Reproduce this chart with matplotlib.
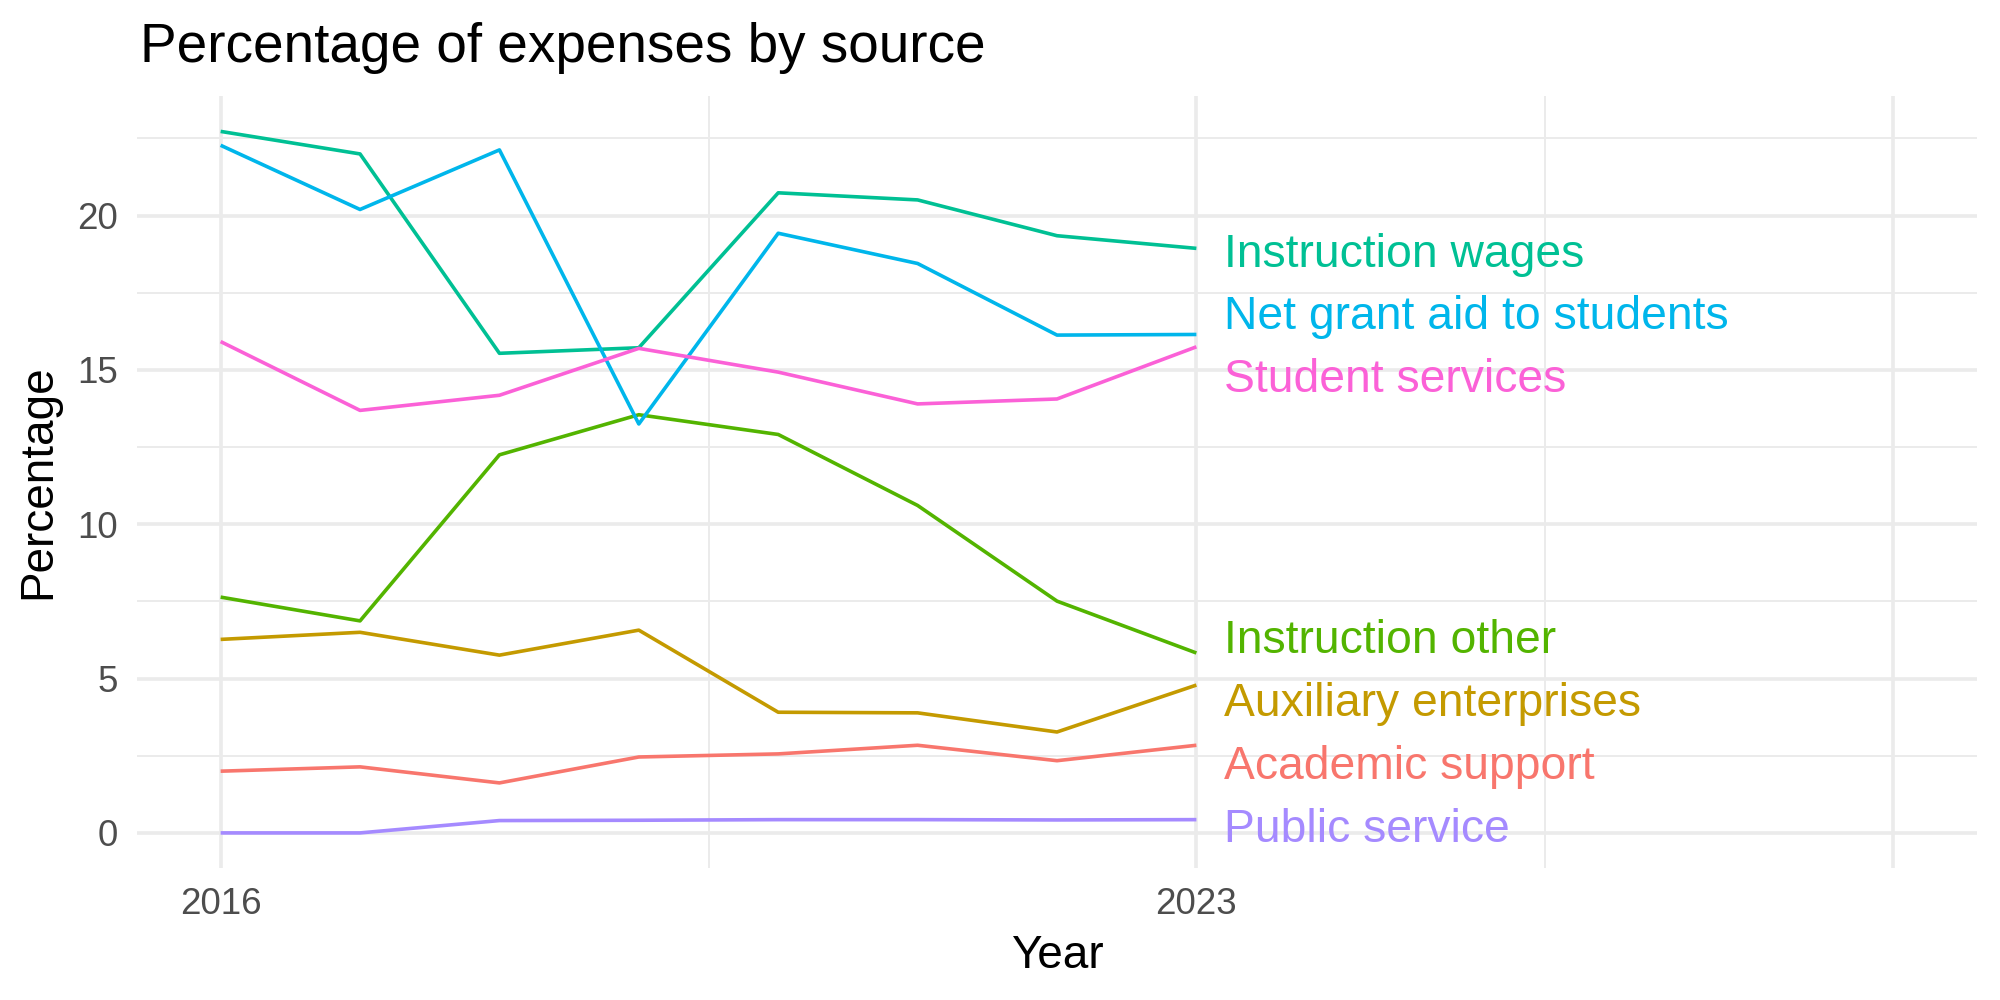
import matplotlib
matplotlib.use("Agg")
import matplotlib.pyplot as plt
from matplotlib.ticker import FixedLocator

plt.rcParams['font.family'] = ['Liberation Sans', 'DejaVu Sans']

# data
years = [2016, 2017, 2018, 2019, 2020, 2021, 2022, 2023]
academic_support = [2.00, 2.14, 1.62, 2.46, 2.56, 2.84, 2.34, 2.84]
auxiliary_enterprises = [6.27, 6.50, 5.76, 6.57, 3.91, 3.89, 3.27, 4.79]
instruction_other = [7.64, 6.87, 12.25, 13.55, 12.91, 10.61, 7.51, 5.83]
instruction_wages = [22.73, 22.00, 15.54, 15.72, 20.74, 20.51, 19.35, 18.94]
net_grant_aid = [22.28, 20.20, 22.13, 13.25, 19.43, 18.45, 16.13, 16.15]
public_service = [0.00, 0.00, 0.40, 0.41, 0.43, 0.43, 0.42, 0.43]
student_services = [15.92, 13.69, 14.18, 15.70, 14.93, 13.90, 14.06, 15.75]

series_names = ["Academic support", "Auxiliary enterprises", "Instruction other",
                "Instruction wages", "Net grant aid to students", "Public service",
                "Student services"]
series_values = [academic_support, auxiliary_enterprises, instruction_other,
                 instruction_wages, net_grant_aid, public_service, student_services]

# ggplot hue palette
colors = ["#F8766D", "#C49A00", "#53B400", "#00C094", "#00B6EB", "#A58AFF", "#FB61D7"]
# end-label heights (repelled so they don't overlap)
label_y = [2.12, 4.18, 6.21, 18.73, 16.71, 0.09, 14.68]

fig = plt.figure(figsize=(20, 10), dpi=100)
ax = fig.add_axes([0.0685, 0.132, 0.92, 0.772])

grid = "#EBEBEB"
for name, vals, col, ly in zip(series_names, series_values, colors, label_y):
    ax.plot(years, vals, color=col, lw=2.6, zorder=3, solid_capstyle='butt')
    ax.text(years[-1] + 0.2, ly, name, color=col, fontsize=33.3,
            ha='left', va='center', zorder=4)

ax.set_xlim(2015.4, 2028.6)
ax.set_ylim(-1.137, 23.877)

ax.xaxis.set_major_locator(FixedLocator([2016, 2023, 2028]))
ax.set_xticklabels(["2016", "2023", ""])
ax.xaxis.set_minor_locator(FixedLocator([2019.5, 2025.5]))
ax.yaxis.set_major_locator(FixedLocator([0, 5, 10, 15, 20]))
ax.yaxis.set_minor_locator(FixedLocator([2.5, 7.5, 12.5, 17.5, 22.5]))

ax.grid(which='major', color=grid, lw=2.6)
ax.grid(which='minor', color=grid, lw=1.4)
ax.set_axisbelow(True)
for s in ax.spines.values():
    s.set_visible(False)
ax.tick_params(which='both', length=0)
ax.tick_params(axis='both', labelsize=26.5, labelcolor="#4D4D4D")
ax.tick_params(axis='x', pad=14)
ax.tick_params(axis='y', pad=14)

ax.set_xlabel("Year", fontsize=33, labelpad=8)
ax.set_ylabel("Percentage", fontsize=33, labelpad=12)
fig.text(0.07, 0.952, "Percentage of expenses by source", fontsize=39.5,
         ha='left', va='center')

fig.savefig("out.png", dpi=100)
